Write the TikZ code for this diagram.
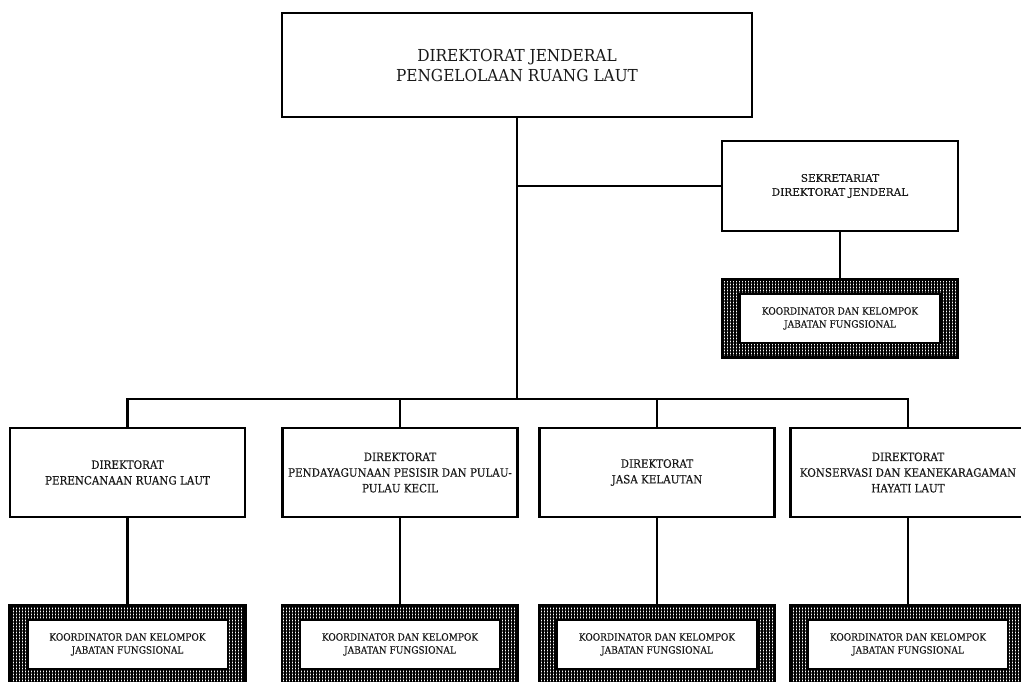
\documentclass[tikz,border=0pt]{standalone}
\usepackage{fontspec}
\setmainfont{DejaVu Serif}
\newfontfamily\headfont[FakeStretch=0.93]{DejaVu Serif}
\newfontfamily\unitfont[FakeStretch=0.9,FakeBold=0.3]{DejaVu Serif}
\newfontfamily\setditfont[FakeBold=0.3]{DejaVu Serif}
\usetikzlibrary{positioning,patterns.meta}

\tikzset{
  headunit/.style={draw,line width=2.4pt,fill=white,minimum width=470pt,minimum height=104pt,
    align=center,text=black!90,font=\headfont\fontsize{16.5}{20}\selectfont},
  unit/.style={draw,line width=2.4pt,fill=white,minimum width=235pt,minimum height=89pt,
    align=center,text=black!90,font=\unitfont\fontsize{11.5}{15.7}\selectfont},
  subunit/.style={unit,minimum width=236pt,minimum height=90pt,
    font=\setditfont\fontsize{10.5}{14}\selectfont},
  jabfung/.style={draw,line width=2.4pt,preaction={fill=white},minimum width=236pt,minimum height=78pt,
    pattern={Hatch[distance=3pt,line width=1.4pt]}},
  jabfungtext/.style={draw,line width=2pt,fill=white,minimum width=200pt,minimum height=49pt,
    align=center,text=black!90,font=\unitfont\fontsize{10}{13}\selectfont},
  link/.style={line width=2.4pt}
}

\begin{document}
\begin{tikzpicture}[x=1pt,y=-1pt]
	\useasboundingbox (0,0) rectangle (1021,682);

	% Head of the organisation and its secretariat
	\node[headunit] (dirjen) at (517,65) {DIREKTORAT JENDERAL\\PENGELOLAAN RUANG LAUT};
	\node[subunit] (setdit) at (840,186) {SEKRETARIAT\\DIREKTORAT JENDERAL};
	\node[jabfung] (setditjf) [below=46.5pt of setdit] {};
	\node[jabfungtext] (setditjft) at (setditjf) {KOORDINATOR DAN KELOMPOK\\JABATAN FUNGSIONAL};

	% The four directorates along the bottom
	\node[unit] (dpr) at (127.5,472.5) {DIREKTORAT\\PERENCANAAN RUANG LAUT};
	\node[unit] (dpp) at (400,472.5) {DIREKTORAT\\PENDAYAGUNAAN PESISIR DAN PULAU-\\PULAU KECIL};
	\node[unit] (djk) at (657,472.5) {DIREKTORAT\\JASA KELAUTAN};
	\node[unit] (dkk) at (908,472.5) {DIREKTORAT\\KONSERVASI DAN KEANEKARAGAMAN\\HAYATI LAUT};

	% Functional groups below each directorate
	\node[jabfung] (dprjf) [below=86pt of dpr] {};
	\node[jabfungtext] (dprjft) at (dprjf) {KOORDINATOR DAN KELOMPOK\\JABATAN FUNGSIONAL};
	\node[jabfung] (dppjf) [below=86pt of dpp] {};
	\node[jabfungtext] (dppjft) at (dppjf) {KOORDINATOR DAN KELOMPOK\\JABATAN FUNGSIONAL};
	\node[jabfung] (djkjf) [below=86pt of djk] {};
	\node[jabfungtext] (djkjft) at (djkjf) {KOORDINATOR DAN KELOMPOK\\JABATAN FUNGSIONAL};
	\node[jabfung] (dkkjf) [below=86pt of dkk] {};
	\node[jabfungtext] (dkkjft) at (dkkjf) {KOORDINATOR DAN KELOMPOK\\JABATAN FUNGSIONAL};

	% Lines of command
	\coordinate (bus) at (517,399);
	\draw[link] (dirjen) -- (bus);
	\draw[link] (setdit) -- (setdit -| dirjen);
	\draw[link] (setdit) -- (setditjf);
	\draw[link] (dpr) |- (bus) -| (dkk);
	\draw[link] (dpp) -- (dpp |- bus);
	\draw[link] (djk) -- (djk |- bus);
	\draw[link] (dpr) -- (dprjf);
	\draw[link] (dpp) -- (dppjf);
	\draw[link] (djk) -- (djkjf);
	\draw[link] (dkk) -- (dkkjf);

\end{tikzpicture}
\end{document}
